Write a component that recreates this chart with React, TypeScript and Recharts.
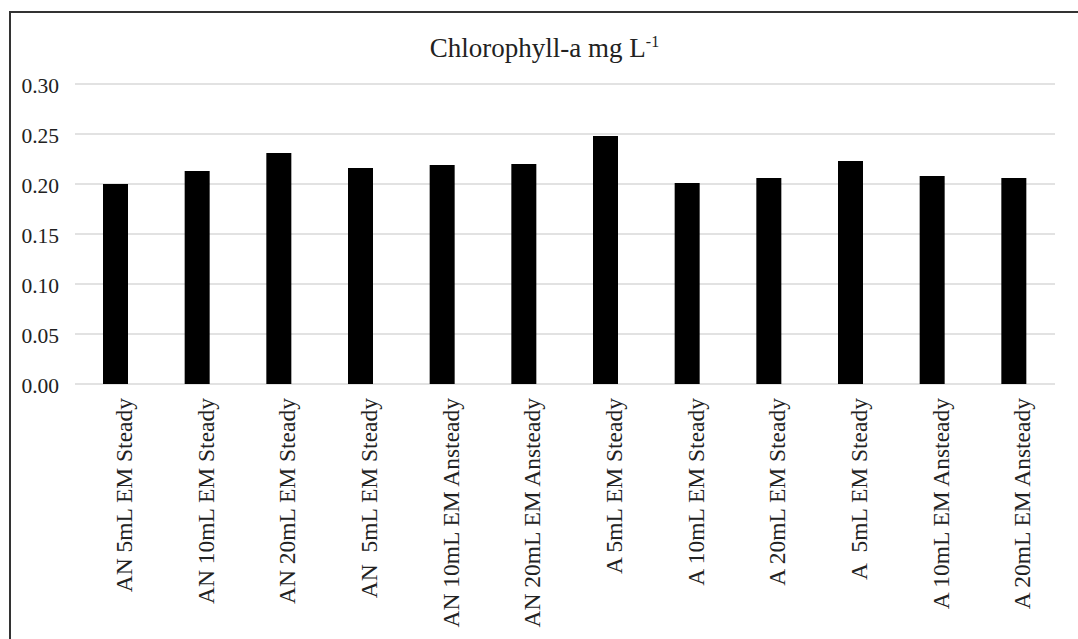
import React from 'react'
import { BarChart, Bar, XAxis, YAxis, CartesianGrid } from 'recharts'

const categories = [
  'AN 5mL EM Steady',
  'AN 10mL EM Steady',
  'AN 20mL EM Steady',
  'AN  5mL EM Steady',
  'AN 10mL EM Ansteady',
  'AN 20mL EM Ansteady',
  'A 5mL EM Steady',
  'A 10mL EM Steady',
  'A 20mL EM Steady',
  'A  5mL EM Steady',
  'A 10mL EM Ansteady',
  'A 20mL EM Ansteady',
]

const chlorophyll = [0.2, 0.213, 0.231, 0.216, 0.219, 0.22, 0.248, 0.201, 0.206, 0.223, 0.208, 0.206]

const yTicks = [0, 0.05, 0.1, 0.15, 0.2, 0.25, 0.3]

const data = categories.map((name, i) => ({ name, value: chlorophyll[i] }))

const FONT = '"Liberation Serif", "Times New Roman", serif'

// rotated category label, reads bottom-to-top like Excel
const RotatedTick = (props: any) => {
  const { x, y, payload } = props
  return (
    <text
      x={x}
      y={y}
      transform={`rotate(-90, ${x}, ${y})`}
      textAnchor="end"
      dy={16}
      fontFamily={FONT}
      fontSize={23.5}
      fill="#222"
      style={{ whiteSpace: 'pre' }}
    >
      {payload.value}
    </text>
  )
}

export default function App() {
  return (
    <div
      style={{
        position: 'absolute',
        left: 9,
        top: 11,
        width: 1067,
        height: 626,
        borderTop: '2px solid #333',
        borderLeft: '2px solid #333',
        background: '#fff',
      }}
    >
      <div
        style={{
          position: 'absolute',
          left: 0,
          top: 15,
          width: 1067,
          textAlign: 'center',
          fontFamily: FONT,
          fontSize: 27,
          lineHeight: '27px',
          color: '#222',
        }}
      >
        Chlorophyll-a mg L<sup style={{ fontSize: 16 }}>-1</sup>
      </div>
      <BarChart
        width={1067}
        height={626}
        data={data}
        margin={{ top: 71, right: 23, bottom: 0, left: 0 }}
      >
        <CartesianGrid vertical={false} stroke="#d9d9d9" strokeWidth={1.5} />
        <XAxis
          dataKey="name"
          axisLine={false}
          tickLine={false}
          tickSize={0}
          tickMargin={14}
          height={255}
          interval={0}
          tick={<RotatedTick />}
        />
        <YAxis
          domain={[0, 0.3]}
          ticks={yTicks}
          axisLine={false}
          tickLine={false}
          tickSize={0}
          tickMargin={16}
          width={64}
          tickFormatter={(v: number) => v.toFixed(2)}
          tick={{ fontFamily: FONT, fontSize: 21.5, fill: '#222', dy: 1 }}
        />
        <Bar dataKey="value" fill="#000" barSize={25} isAnimationActive={false} />
      </BarChart>
    </div>
  )
}
